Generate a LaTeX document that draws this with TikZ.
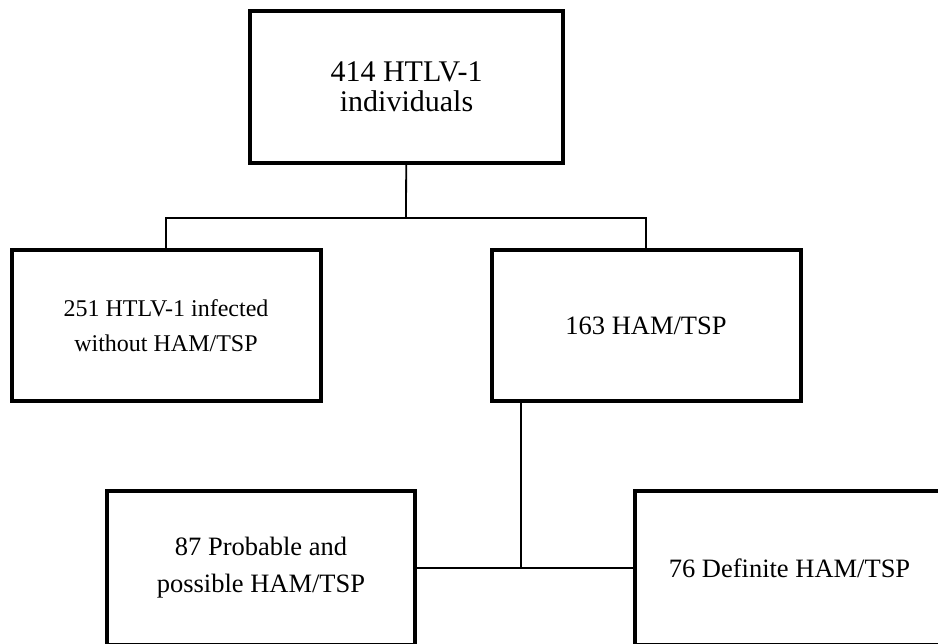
\documentclass[tikz,border=0pt]{standalone}
\usepackage{fontspec}
\setmainfont{Liberation Serif}
\usetikzlibrary{positioning}

\begin{document}
\begin{tikzpicture}[x=1pt,y=-1pt,auto,
        main node/.style={rectangle,draw,line width=4pt,minimum width=309pt,minimum height=151pt,inner sep=0pt,align=center},
        link/.style={line width=1.8pt}]

    \useasboundingbox (0,0) rectangle (938,644);
    \clip (0,0) rectangle (938,644);

    \node[main node,minimum width=313pt,minimum height=152pt,font=\fontsize{30}{30}\selectfont] (1) at (406.5,87) {414 HTLV-1\\individuals};
    \node[main node,font=\fontsize{24}{35}\selectfont] (2) at (166,326) {251 HTLV-1 infected\\without HAM/TSP};
    \node[main node,font=\fontsize{26.5}{37}\selectfont] (3) [right=167pt of 2] {163 HAM/TSP};
    \node[main node,minimum width=308pt,minimum height=154pt,font=\fontsize{26.5}{37}\selectfont] (4) at (261,568) {87 Probable and\\possible HAM/TSP};
    \node[main node,minimum height=154pt,font=\fontsize{26.5}{37}\selectfont] (5) [right=216pt of 4] {76 Definite HAM/TSP};

    \coordinate (a) at (406,218);
    \coordinate (b) at (521,568);

    \draw[link] (1) -- (a) -| (2);
    \draw[link] (a) -| (3);
    \draw[link] (3.south -| b) -- (b);
    \draw[link] (4) -- (5);

\end{tikzpicture}
\end{document}
